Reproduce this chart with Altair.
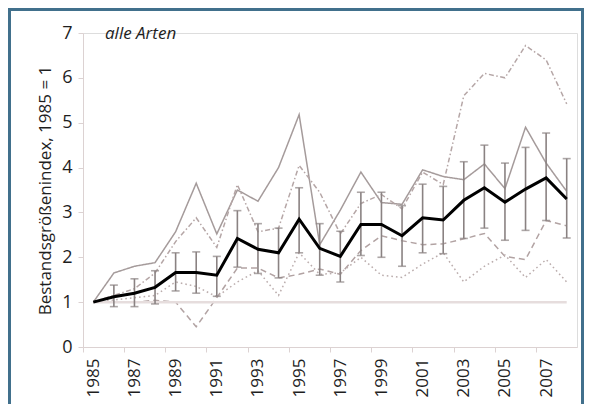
import altair as alt
import pandas as pd

years = list(range(1985, 2009))

mean = [1.0, 1.12, 1.2, 1.33, 1.66, 1.66, 1.6, 2.42, 2.18, 2.1, 2.85, 2.2,
        2.02, 2.73, 2.73, 2.48, 2.88, 2.83, 3.27, 3.55, 3.23, 3.52, 3.77, 3.3]
err_lo = [None, 0.9, 0.9, 0.96, 1.25, 1.2, 1.13, 1.78, 1.64, 1.54, 2.1, 1.6,
          1.45, 2.04, 2.0, 1.8, 2.1, 2.08, 2.42, 2.65, 2.38, 2.6, 2.82, 2.43]
err_hi = [None, 1.38, 1.52, 1.7, 2.1, 2.12, 2.02, 3.04, 2.75, 2.65, 3.55, 2.75,
          2.58, 3.45, 3.45, 3.15, 3.63, 3.58, 4.13, 4.5, 4.1, 4.45, 4.77, 4.2]

solid = [1.0, 1.65, 1.8, 1.88, 2.57, 3.65, 2.52, 3.5, 3.25, 4.0, 5.18, 2.28,
         3.05, 3.9, 3.22, 3.18, 3.95, 3.8, 3.73, 4.08, 3.53, 4.9, 4.1, 3.47]
dashdot = [1.0, 1.15, 1.3, 1.65, 2.35, 2.88, 2.22, 3.62, 2.57, 2.65, 4.05, 3.45,
           2.52, 3.2, 3.4, 3.08, 3.9, 3.62, 5.6, 6.1, 6.0, 6.72, 6.4, 5.42]
dashed = [1.0, 1.0, 1.0, 1.04, 1.0, 0.45, 1.1, 1.76, 1.76, 1.54, 1.62, 1.74,
          1.62, 2.15, 2.48, 2.37, 2.28, 2.3, 2.41, 2.53, 2.02, 1.95, 2.82, 2.7]
dotted = [1.0, 1.05, 1.1, 1.15, 1.45, 1.35, 1.12, 1.45, 1.7, 1.15, 2.1, 1.62,
          1.65, 2.0, 1.6, 1.55, 1.85, 2.1, 1.45, 1.8, 2.05, 1.55, 1.95, 1.45]

series_names = ["solid", "dashdot", "dashed", "dotted"]
series_vals = [solid, dashdot, dashed, dotted]

y_ticks = [0, 1, 2, 3, 4, 5, 6, 7]

W, H = 494, 314
half_band = W / (len(years) * 2)

main = pd.DataFrame({"year": years, "mean": mean, "lo": err_lo, "hi": err_hi})
errs = main.dropna()
grey = pd.DataFrame(
    [{"year": y, "value": v, "series": n}
     for n, vals in zip(series_names, series_vals) for y, v in zip(years, vals)]
)
ref = pd.DataFrame({"year": years, "one": [1] * len(years)})

axis_color = "#dcd2d2"
x_scale = alt.Scale(domain=[1984.5, 2008.5], nice=False, zero=False)
y_scale = alt.Scale(domain=[0, 7], nice=False)

x_axis = alt.Axis(
    values=years, format="d", tickOffset=-half_band, labelOffset=half_band,
    labelExpr="datum.value % 2 == 1 ? datum.label : ''",
    labelAngle=-90, labelFontSize=17, labelColor="#1e1e1e", labelPadding=6,
    labelFlush=False, labelOverlap=False, tickSize=5, tickColor=axis_color,
    domainColor=axis_color, grid=False, title=None,
)
y_axis = alt.Axis(
    values=y_ticks, labelFontSize=18, labelColor="#1e1e1e", labelPadding=6,
    tickSize=5, tickColor=axis_color, domainColor=axis_color, grid=False,
    title="Bestandsgrößenindex, 1985 = 1", titleFontSize=17,
    titleFontWeight="normal", titleColor="#1e1e1e", titlePadding=7,
)

base_x = alt.X("year:Q", scale=x_scale, axis=x_axis)

grey_lines = alt.Chart(grey).mark_line(strokeWidth=1.5).encode(
    x=base_x,
    y=alt.Y("value:Q", scale=y_scale, axis=y_axis),
    detail="series:N",
    color=alt.Color("series:N", legend=None, scale=alt.Scale(
        domain=series_names, range=["#a59b9b", "#b5a6a6", "#b2a3a3", "#bbadad"])),
    strokeDash=alt.StrokeDash("series:N", legend=None, scale=alt.Scale(
        domain=series_names, range=[[1, 0], [5, 2.5, 1.5, 2.5], [6, 4], [1.6, 3]])),
)

ref_line = alt.Chart(ref).mark_line(color="#e6dddd", strokeWidth=2.5).encode(
    x="year:Q", y="one:Q"
)

err_rule = alt.Chart(errs).mark_rule(color="#8a8282", strokeWidth=1.6).encode(
    x="year:Q", y="lo:Q", y2="hi:Q"
)
cap_lo = alt.Chart(errs).mark_tick(color="#8a8282", orient="horizontal", size=8, thickness=1.6).encode(
    x="year:Q", y="lo:Q"
)
cap_hi = alt.Chart(errs).mark_tick(color="#8a8282", orient="horizontal", size=8, thickness=1.6).encode(
    x="year:Q", y="hi:Q"
)

mean_line = alt.Chart(main).mark_line(color="#000000", strokeWidth=3).encode(
    x="year:Q", y="mean:Q"
)

label = alt.Chart(pd.DataFrame({"t": ["alle Arten"]})).mark_text(
    align="left", baseline="middle", fontSize=17, fontStyle="italic", color="#1e1e1e"
).encode(x=alt.value(22), y=alt.value(1), text="t:N")

frame = alt.Chart(pd.DataFrame({"a": [0]})).mark_rect(
    filled=False, stroke="#41708c", strokeWidth=3
).encode(x=alt.value(-73.5), x2=alt.value(499.5), y=alt.value(-23.5), y2=alt.value(420))

chart = alt.layer(
    grey_lines, ref_line, err_rule, cap_lo, cap_hi, mean_line, label, frame
).properties(
    width=W, height=H, autosize="none",
    padding={"left": 75, "top": 25, "right": 7, "bottom": 57},
    background="#ffffff",
).configure_view(stroke=None).configure(font="Open Sans")

chart.save("out.html", embed_options={"renderer": "svg", "actions": False})
